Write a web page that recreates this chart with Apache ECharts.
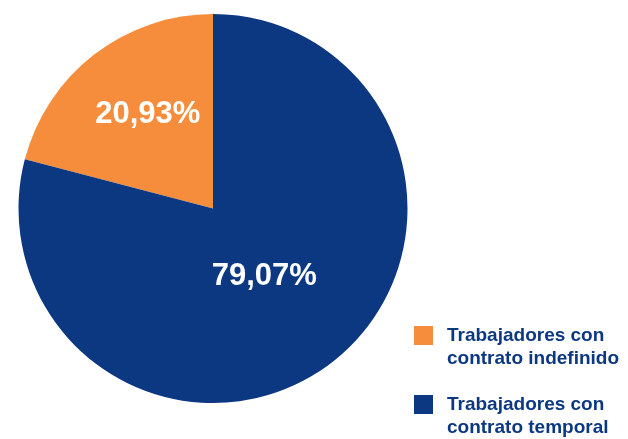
<!DOCTYPE html>
<html>
<head>
<meta charset="utf-8">
<script src="https://cdn.jsdelivr.net/npm/echarts@6/dist/echarts.min.js"></script>
<style>
  html, body { margin: 0; padding: 0; background: #fff; }
  #chart { width: 628px; height: 439px; }
</style>
</head>
<body>
<div id="chart"></div>
<script>
// categorías y valores (%)
const categories = ['Trabajadores con\ncontrato indefinido', 'Trabajadores con\ncontrato temporal'];
const values = [20.93, 79.07];
const colors = ['#f68d3c', '#0c3882'];

const blue = '#0c3882';
// ajuste fino de las etiquetas dentro de cada sector
const labelShift = [[-4, -15], [-10, -11]];

const chart = echarts.init(document.getElementById('chart'));

const formatPct = (v) => v.toFixed(2).replace('.', ',') + '%';

chart.setOption({
  animation: false,
  color: colors,
  legend: {
    orient: 'vertical',
    left: 414,
    top: 301,
    height: 200,
    padding: 0,
    itemWidth: 19,
    itemHeight: 19,
    itemGap: 0,
    icon: 'rect',
    selectedMode: false,
    // línea vacía delante para que la primera línea quede a la altura del cuadro
    formatter: (name) => '\n' + name,
    textStyle: {
      color: blue,
      fontFamily: 'Liberation Sans',
      fontWeight: 'bold',
      fontSize: 19,
      lineHeight: 23,
      padding: [0, 0, 0, 9],
    },
  },
  series: [
    {
      type: 'pie',
      center: [213, 208.5],
      radius: 194.5,
      startAngle: 90,
      clockwise: false,
      silent: true,
      itemStyle: { borderWidth: 0 },
      label: {
        position: 'inside',
        color: '#fff',
        fontFamily: 'Liberation Sans',
        fontWeight: 'bold',
        fontSize: 31,
        formatter: (p) => formatPct(p.value),
      },
      labelLine: { show: false },
      labelLayout: (p) => ({ dx: labelShift[p.dataIndex][0], dy: labelShift[p.dataIndex][1] }),
      data: categories.map((name, i) => ({ name, value: values[i] })),
    },
  ],
});
</script>
</body>
</html>
